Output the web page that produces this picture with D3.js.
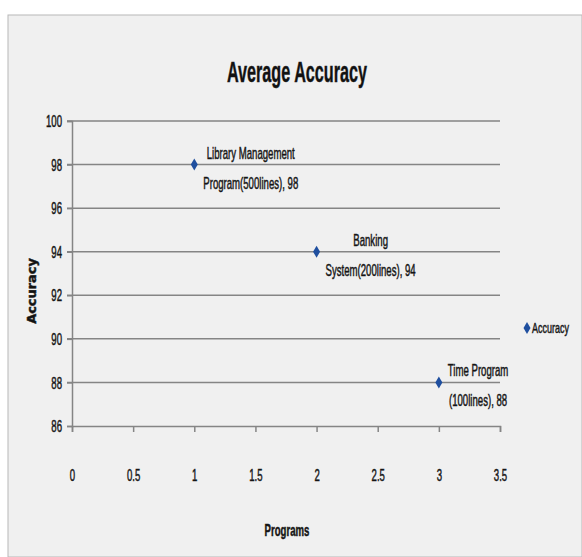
<!DOCTYPE html>
<html>
<head>
<meta charset="utf-8">
<script src="https://cdn.jsdelivr.net/npm/d3@7"></script>
<style>
  body { margin: 0; background: #fff; }
  text { font-family: "Liberation Sans", Arial, sans-serif; fill: #111; }
  .heavy { stroke: #222; stroke-width: 0.5px; }
</style>
</head>
<body>
<script>
var programs = [1, 2, 3];
var accuracy = [98, 94, 88];
var pointLabels = [
    ["Library Management", "Program(500lines), 98"],
    ["Banking", "System(200lines), 94"],
    ["Time Program", "(100lines), 88"]
];
var xTicks = [0, 0.5, 1, 1.5, 2, 2.5, 3, 3.5];
var yTicks = [86, 88, 90, 92, 94, 96, 98, 100];
var seriesName = "Accuracy";

var width = 582, height = 557;
var sx = 0.6;   // the picture is squeezed sideways
var svg = d3.select('body').append('svg')
    .attr('width', width).attr('height', height);

// put a squeezed text at (px, py)
function label(parent, px, py, str, size, anchor, bold, scale) {
    var g = parent.append('g')
        .attr('transform', 'translate(' + px + ',' + py + ') scale(' + (scale || sx) + ',1)');
    var t = g.append('text')
        .attr('text-anchor', anchor || 'start')
        .attr('class', 'heavy')
        .style('font-size', size + 'px')
        .text(str);
    if (bold) t.style('font-weight', 'bold');
    return t;
}

// chart area
svg.append('rect')
    .attr('x', 8).attr('y', 15)
    .attr('width', width - 8).attr('height', height - 15)
    .attr('fill', '#f0f0f0')
    .attr('stroke', '#b8b8b8');

var x = d3.scaleLinear().domain([0, 3.5]).range([72, 500]);
var y = d3.scaleLinear().domain([86, 100]).range([426, 121]);

// gridlines
svg.append('g').selectAll('line')
    .data(yTicks.slice(1))
    .enter().append('line')
    .attr('x1', 67).attr('x2', 500)
    .attr('y1', function(d) { return y(d); })
    .attr('y2', function(d) { return y(d); })
    .attr('stroke', '#858585').attr('stroke-width', 1.5);

var xAxis = svg.append('g')
    .attr('transform', 'translate(0,' + y(86) + ')')
    .call(d3.axisBottom(x).tickValues(xTicks).tickSize(6).tickFormat(d3.format('')));
var yAxis = svg.append('g')
    .attr('transform', 'translate(' + x(0) + ',0)')
    .call(d3.axisLeft(y).tickValues(yTicks).tickSize(5));

[xAxis, yAxis].forEach(function(a) {
    a.select('.domain').attr('stroke', '#858585').attr('stroke-width', 1.5);
    a.selectAll('.tick line').attr('stroke', '#858585').attr('stroke-width', 1.5);
    a.selectAll('.tick text')
        .attr('fill', '#111')
        .attr('class', 'heavy')
        .style('font-family', '"Liberation Sans", Arial, sans-serif')
        .style('font-size', '16px');
});
xAxis.selectAll('.tick text')
    .attr('y', 0).attr('dy', null)
    .attr('transform', 'translate(0,55) scale(' + sx + ',1)');
yAxis.selectAll('.tick text')
    .attr('x', 0).attr('dy', '0.35em')
    .attr('transform', 'translate(-10,0) scale(' + sx + ',1)');

function diamond(sel) {
    return sel.attr('d', 'M0,-6L3.5,0L0,6L-3.5,0Z')
        .attr('fill', '#1f4f9f');
}

// points
var pts = svg.append('g').selectAll('g')
    .data(programs)
    .enter().append('g')
    .attr('transform', function(d, i) {
        return 'translate(' + x(d) + ',' + y(accuracy[i]) + ')';
    });
pts.append('path').call(diamond);

// data labels, two centred lines to the right of each point
pts.each(function(d, i) {
    var g = d3.select(this);
    var lines = pointLabels[i];
    var ts = lines.map(function(s, k) {
        return label(g, 0, 0, s, 16, 'middle');
    });
    var w = d3.max(ts, function(t) { return t.node().getComputedTextLength(); }) * sx;
    ts.forEach(function(t, k) {
        d3.select(t.node().parentNode)
            .attr('transform', 'translate(' + (9 + w / 2) + ',' + (k === 0 ? -6 : 24) +
                ') scale(' + sx + ',1)');
    });
});

// title
label(svg, 297, 82, 'Average Accuracy', 30, 'middle', true, 0.54);

// axis titles
svg.append('text')
    .attr('transform', 'translate(36,' + y(92.2) + ') rotate(-90) scale(1.08,1)')
    .attr('text-anchor', 'middle')
    .attr('class', 'heavy')
    .style('font-size', '12px').style('font-weight', 'bold')
    .style('font-family', 'DejaVu Sans')
    .text('Accuracy');
label(svg, 287, 536, 'Programs', 16, 'middle', true);

// legend
var lg = svg.append('g').attr('transform', 'translate(527,' + y(90.5) + ')');
lg.append('path').call(diamond);
label(lg, 5, 5, seriesName, 15, 'start');
</script>
</body>
</html>
